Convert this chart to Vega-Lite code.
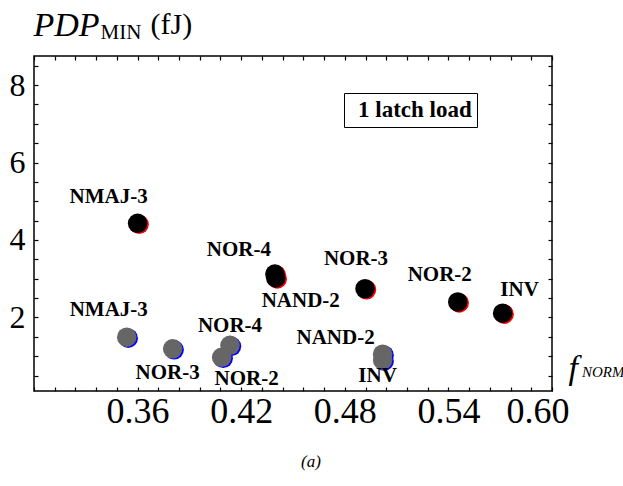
{
  "$schema": "https://vega.github.io/schema/vega-lite/v6.json",
  "width": 518,
  "height": 335,
  "autosize": {"type": "none"},
  "padding": {"left": 34, "top": 56, "right": 71, "bottom": 95},
  "background": "white",
  "title": {"text": "(a)", "orient": "bottom", "anchor": "middle", "font": "Liberation Serif", "fontSize": 17, "fontStyle": "italic", "fontWeight": "normal", "color": "black", "dx": 18, "offset": 25},
  "data": {"values": [
    {"id": "b_nmaj3", "gate": "NMAJ-3", "series": "b", "f": 0.360, "pdp": 4.43},
    {"id": "b_nor4", "gate": "NOR-4", "series": "b", "f": 0.4395, "pdp": 3.12},
    {"id": "b_nand2", "gate": "NAND-2", "series": "b", "f": 0.4400, "pdp": 3.02},
    {"id": "b_nor3", "gate": "NOR-3", "series": "b", "f": 0.4917, "pdp": 2.74},
    {"id": "b_nor2", "gate": "NOR-2", "series": "b", "f": 0.5454, "pdp": 2.40},
    {"id": "b_inv", "gate": "INV", "series": "b", "f": 0.5714, "pdp": 2.11},
    {"id": "g_nmaj3", "gate": "NMAJ-3", "series": "g", "f": 0.3537, "pdp": 1.49},
    {"id": "g_nor3", "gate": "NOR-3", "series": "g", "f": 0.3803, "pdp": 1.19},
    {"id": "g_nor4", "gate": "NOR-4", "series": "g", "f": 0.4135, "pdp": 1.28},
    {"id": "g_nor2", "gate": "NOR-2", "series": "g", "f": 0.4087, "pdp": 0.97},
    {"id": "g_nand2", "gate": "NAND-2", "series": "g", "f": 0.5019, "pdp": 1.05},
    {"id": "g_inv", "gate": "INV", "series": "g", "f": 0.5019, "pdp": 0.90}
  ]},
  "config": {
    "view": {"stroke": "black", "strokeWidth": 1.5},
    "axis": {"ticks": true, "tickColor": "black", "tickWidth": 1.2, "tickOpacity": 1},
    "text": {"font": "Liberation Serif", "fontSize": 21, "fontWeight": "bold", "color": "black", "align": "center", "baseline": "middle"}
  },
  "encoding": {
    "x": {"field": "f", "type": "quantitative", "scale": {"domain": [0.3, 0.6], "nice": false, "zero": false}, "axis": null},
    "y": {"field": "pdp", "type": "quantitative", "scale": {"domain": [0.1, 8.75], "nice": false, "zero": false}, "axis": null}
  },
  "layer": [
    {
      "mark": {"type": "point", "filled": true, "size": 380, "opacity": 1, "strokeWidth": 0, "xOffset": 1.5, "yOffset": 1},
      "encoding": {
        "x": {"field": "f", "type": "quantitative", "scale": {"domain": [0.3, 0.6], "nice": false, "zero": false},
          "axis": {"orient": "top", "offset": -4, "zindex": 1, "ticks": true, "values": [0.3, 0.312, 0.324, 0.336, 0.348, 0.36, 0.372, 0.384, 0.396, 0.408, 0.42, 0.432, 0.444, 0.456, 0.468, 0.48, 0.492, 0.504, 0.516, 0.528, 0.54, 0.552, 0.564, 0.576, 0.588, 0.6],
            "labels": false, "tickSize": 4, "domain": false, "grid": false,
            "title": "(fJ)", "titleFont": "Liberation Serif", "titleFontSize": 30, "titleFontWeight": "normal", "titleColor": "black",
            "titleX": 116, "titleY": -27, "titleAlign": "left", "titleBaseline": "alphabetic", "titleAngle": 0}},
        "y": {"field": "pdp", "type": "quantitative", "scale": {"domain": [0.1, 8.75], "nice": false, "zero": false},
          "axis": {"orient": "right", "offset": -4, "zindex": 1, "ticks": true, "values": [0.5, 1, 1.5, 2, 2.5, 3, 3.5, 4, 4.5, 5, 5.5, 6, 6.5, 7, 7.5, 8, 8.5],
            "labels": false, "tickSize": 4, "domain": false, "grid": false,
            "title": "MIN", "titleFont": "Liberation Serif", "titleFontSize": 21, "titleFontWeight": "normal", "titleColor": "black",
            "titleX": -448, "titleY": -18, "titleAlign": "left", "titleBaseline": "alphabetic", "titleAngle": 0}},
        "color": {"field": "series", "type": "nominal", "scale": {"domain": ["b", "g"], "range": ["#ff0000", "#0000ff"]}, "legend": null},
        "shape": {"datum": "NORM", "scale": {"range": ["circle"]},
          "legend": {"orient": "none", "legendX": 546, "legendY": 308, "title": null, "labelFont": "Liberation Serif", "labelFontSize": 15, "labelFontStyle": "italic", "labelColor": "black", "symbolSize": 0, "symbolOpacity": 0, "symbolStrokeWidth": 0, "labelOffset": -13, "padding": 0}}
      }
    },
    {
      "mark": {"type": "point", "filled": true, "size": 380, "opacity": 1, "strokeWidth": 0},
      "encoding": {
        "x": {"field": "f", "type": "quantitative", "scale": {"domain": [0.3, 0.6], "nice": false, "zero": false},
          "axis": {"orient": "bottom", "offset": -4, "zindex": 1, "ticks": true, "values": [0.3, 0.312, 0.324, 0.336, 0.348, 0.36, 0.372, 0.384, 0.396, 0.408, 0.42, 0.432, 0.444, 0.456, 0.468, 0.48, 0.492, 0.504, 0.516, 0.528, 0.54, 0.552, 0.564, 0.576, 0.588, 0.6],
            "labelExpr": "indexof(['0.36','0.42','0.48','0.54','0.60'], format(datum.value, '.2f')) >= 0 ? format(datum.value, '.2f') : ''",
            "labelFont": "Liberation Serif", "labelFontSize": 36, "labelColor": "black", "labelPadding": 3, "labelFlush": true, "labelFlushOffset": 17,
            "tickSize": 4, "domain": false, "grid": false,
            "title": "f", "titleFont": "Liberation Serif", "titleFontSize": 34, "titleFontStyle": "italic", "titleFontWeight": "normal", "titleColor": "black",
            "titleX": 534, "titleY": -9, "titleAlign": "left", "titleBaseline": "alphabetic", "titleAngle": 0}},
        "y": {"field": "pdp", "type": "quantitative", "scale": {"domain": [0.1, 8.75], "nice": false, "zero": false},
          "axis": {"orient": "left", "offset": -4, "zindex": 1, "ticks": true, "values": [0.5, 1, 1.5, 2, 2.5, 3, 3.5, 4, 4.5, 5, 5.5, 6, 6.5, 7, 7.5, 8, 8.5],
            "labelExpr": "datum.value == 2 || datum.value == 4 || datum.value == 6 || datum.value == 8 ? format(datum.value, 'd') : ''",
            "labelFont": "Liberation Serif", "labelFontSize": 32, "labelColor": "black", "labelPadding": 9,
            "tickSize": 4, "domain": false, "grid": false,
            "title": "PDP", "titleFont": "Liberation Serif", "titleFontSize": 34, "titleFontStyle": "italic", "titleFontWeight": "normal", "titleColor": "black",
            "titleX": -5, "titleY": -21, "titleAlign": "left", "titleBaseline": "alphabetic", "titleAngle": 0}},
        "color": {"field": "series", "type": "nominal", "scale": {"domain": ["b", "g"], "range": ["#000000", "#666666"]}, "legend": null},
        "shape": {"datum": "1 latch load", "scale": {"range": ["circle"]},
          "legend": {"orient": "none", "legendX": 310, "legendY": 37, "title": null, "labelFont": "Liberation Serif", "labelFontSize": 23, "labelFontWeight": "bold", "labelColor": "black", "symbolSize": 0, "symbolOpacity": 0, "symbolStrokeWidth": 0, "labelOffset": -14, "padding": 5, "strokeColor": "black",
            "labelExpr": "datum.label + '\u00a0'",
            "encode": {"legend": {"update": {"strokeWidth": {"value": 2}}}}}}
      }
    },
    {
      "encoding": {"text": {"field": "gate", "type": "nominal"}},
      "layer": [
        {"transform": [{"filter": "datum.id == 'b_nmaj3'"}], "mark": {"type": "text", "dx": -29, "dy": -26}},
        {"transform": [{"filter": "datum.id == 'b_nor4'"}], "mark": {"type": "text", "dx": -36, "dy": -24}},
        {"transform": [{"filter": "datum.id == 'b_nand2'"}], "mark": {"type": "text", "dx": 25, "dy": 23}},
        {"transform": [{"filter": "datum.id == 'b_nor3'"}], "mark": {"type": "text", "dx": -9, "dy": -30}},
        {"transform": [{"filter": "datum.id == 'b_nor2'"}], "mark": {"type": "text", "dx": -18, "dy": -27}},
        {"transform": [{"filter": "datum.id == 'b_inv'"}], "mark": {"type": "text", "dx": 17, "dy": -23}},
        {"transform": [{"filter": "datum.id == 'g_nmaj3'"}], "mark": {"type": "text", "dx": -18, "dy": -27}},
        {"transform": [{"filter": "datum.id == 'g_nor3'"}], "mark": {"type": "text", "dx": -5, "dy": 24}},
        {"transform": [{"filter": "datum.id == 'g_nor4'"}], "mark": {"type": "text", "dx": 0, "dy": -19}},
        {"transform": [{"filter": "datum.id == 'g_nor2'"}], "mark": {"type": "text", "dx": 25, "dy": 22}},
        {"transform": [{"filter": "datum.id == 'g_nand2'"}], "mark": {"type": "text", "dx": -47, "dy": -16}},
        {"transform": [{"filter": "datum.id == 'g_inv'"}], "mark": {"type": "text", "dx": -5, "dy": 16}}
      ]
    }
  ],
  "resolve": {"scale": {"color": "independent", "shape": "independent"}, "axis": {"x": "independent", "y": "independent"}}
}
